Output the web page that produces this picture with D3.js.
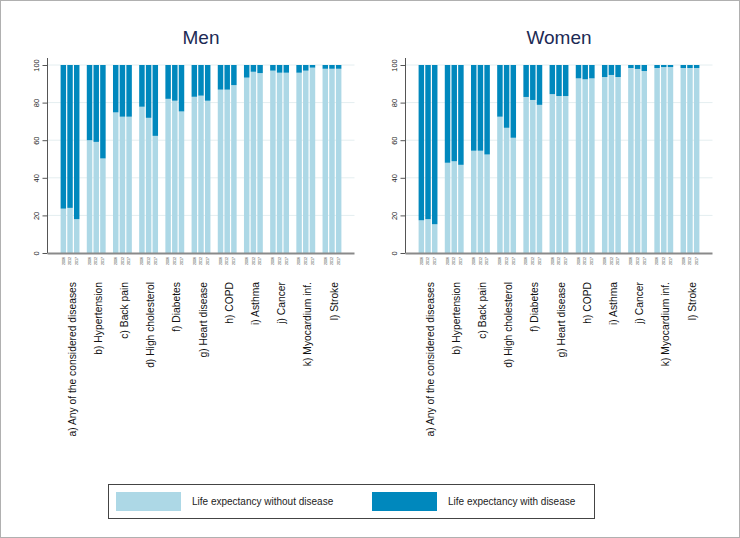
<!DOCTYPE html>
<html><head><meta charset="utf-8">
<script src="https://cdn.jsdelivr.net/npm/d3@7"></script>
<style>body{margin:0;background:#fff}svg{display:block;font-family:"Liberation Sans",Arial,sans-serif}</style>
</head><body><svg id="c" width="740" height="538"></svg>
<script>
const categories = ["a) Any of the considered diseases","b) Hypertension","c) Back pain","d) High cholesterol","f) Diabetes","g) Heart disease","h) COPD","i) Asthma","j) Cancer","k) Myocardium inf.","l) Stroke"];
const years = ["2006","2012","2017"];
// share (%) of life expectancy without disease, by category x year
const menWithout = [
  [23.6,24.0,18.0],[60.0,59.1,50.3],[74.8,72.5,72.5],[77.8,71.9,62.3],[82.0,81.0,75.3],
  [83.1,83.7,81.0],[86.9,86.9,89.3],[93.3,96.4,95.7],[97.0,95.9,95.9],[95.9,97.0,98.6],[98.0,98.0,98.0]];
const womenWithout = [
  [17.4,18.0,15.3],[48.0,48.8,46.9],[54.4,54.4,52.4],[72.5,66.6,61.3],[83.0,81.4,78.8],
  [84.5,83.5,83.5],[92.9,92.4,92.9],[93.6,94.7,93.6],[98.4,97.9,96.8],[98.4,98.9,98.9],[98.4,98.4,98.4]];
const yTicks = [0,20,40,60,80,100];
const legendLabels = ["Life expectancy without disease","Life expectancy with disease"];
const colors = {without:"#ADD8E6", with:"#0088BD"};

const svg = d3.select("#c");
svg.append("rect").attr("x",0.5).attr("y",0.5).attr("width",739).attr("height",537).attr("fill","#fff").attr("stroke","#b0b0b0");

const y = d3.scaleLinear().domain([0,100]).range([253,65]);

function panel(title, data, x0, x1){
  const g = svg.append("g");
  const gx = d3.scaleBand().domain(categories).range([x0,x1]).paddingInner(0.28).paddingOuter(0.5);
  const bx = d3.scaleBand().domain(years).range([0,gx.bandwidth()]).paddingInner(0.18).paddingOuter(0);
  g.append("g").selectAll("line").data(yTicks.filter(d=>d>0)).join("line")
    .attr("x1",x0).attr("x2",x1).attr("y1",d=>y(d)).attr("y2",d=>y(d))
    .attr("stroke","#e4eef0").attr("stroke-width",1);
  categories.forEach((c,i)=>{
    years.forEach((yr,j)=>{
      const v = data[i][j];
      const bxp = gx(c)+bx(yr);
      g.append("rect").attr("x",bxp).attr("width",bx.bandwidth())
        .attr("y",y(v)).attr("height",y(0)-y(v)).attr("fill",colors.without);
      g.append("rect").attr("x",bxp).attr("width",bx.bandwidth())
        .attr("y",y(100)).attr("height",y(v)-y(100)).attr("fill",colors.with);
      g.append("text").attr("transform",`translate(${bxp+bx.bandwidth()/2},257) rotate(-90)`)
        .attr("text-anchor","end").attr("dy","0.35em").attr("font-size",3.6).attr("fill","#333").text(yr);
    });
    g.append("text").attr("transform",`translate(${gx(c)+gx.bandwidth()/2+2},282) rotate(-90)`)
      .attr("text-anchor","end").attr("dy","0.35em").attr("font-size",10.3).attr("fill","#111").text(c);
  });
  const ax = g.append("g").attr("transform",`translate(${x0},0)`)
    .call(d3.axisLeft(y).tickValues(yTicks).tickSize(5).tickPadding(3).tickFormat(d3.format("d")));
  ax.select(".domain").attr("d",`M0,58V253`).attr("stroke","#555");
  ax.selectAll(".tick line").attr("stroke","#555");
  ax.selectAll(".tick text").attr("font-size",7.5).attr("fill","#222")
    .attr("text-anchor","middle").attr("x",null).attr("dy",null)
    .attr("transform","translate(-11,0) rotate(-90)").attr("y",0).attr("dy","0.35em");
  g.append("line").attr("x1",x0).attr("x2",x1).attr("y1",y(0)+0.5).attr("y2",y(0)+0.5).attr("stroke","#8a8a8a").attr("stroke-width",2);
  g.append("text").attr("x",(x0+x1)/2).attr("y",44).attr("text-anchor","middle")
    .attr("font-size",19).attr("fill","#1c2a55").text(title);
}
panel("Men", menWithout, 47.5, 354.5);
panel("Women", womenWithout, 405.5, 712.5);

const lg = svg.append("g");
lg.append("rect").attr("x",108.5).attr("y",484.5).attr("width",486).attr("height",34).attr("fill","#fff").attr("stroke","#444");
const legendItems = [{label:legendLabels[0],color:colors.without,x:116},{label:legendLabels[1],color:colors.with,x:372}];
legendItems.forEach(it=>{
  lg.append("rect").attr("x",it.x).attr("y",492).attr("width",65).attr("height",19).attr("fill",it.color);
  lg.append("text").attr("x",it.x+76).attr("y",505).attr("font-size",10).attr("fill","#222").text(it.label);
});
</script></body></html>
